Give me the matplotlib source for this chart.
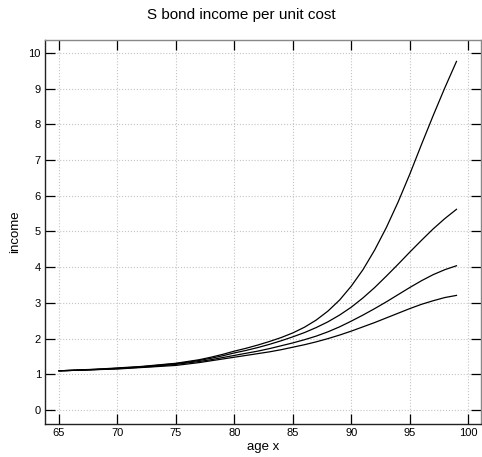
import numpy as np
import matplotlib
matplotlib.use("Agg")
import matplotlib.pyplot as plt

plt.rcParams['font.family'] = ['Liberation Sans', 'DejaVu Sans']

# ages 65..99
age = list(range(65, 100))

# four income curves
income_a = [1.10, 1.11, 1.13, 1.14, 1.16, 1.18, 1.20, 1.22, 1.25, 1.28,
            1.31, 1.36, 1.41, 1.48, 1.56, 1.65, 1.73, 1.82, 1.92, 2.03,
            2.16, 2.32, 2.52, 2.77, 3.08, 3.47, 3.93, 4.48, 5.11, 5.82,
            6.60, 7.43, 8.24, 9.02, 9.76]
income_b = [1.10, 1.11, 1.12, 1.14, 1.15, 1.17, 1.19, 1.21, 1.24, 1.27,
            1.30, 1.34, 1.39, 1.45, 1.52, 1.60, 1.67, 1.75, 1.84, 1.94,
            2.05, 2.17, 2.31, 2.47, 2.66, 2.88, 3.14, 3.43, 3.75, 4.08,
            4.42, 4.75, 5.07, 5.36, 5.62]
income_c = [1.10, 1.11, 1.12, 1.13, 1.15, 1.16, 1.18, 1.20, 1.22, 1.25,
            1.28, 1.32, 1.36, 1.41, 1.47, 1.53, 1.59, 1.65, 1.72, 1.80,
            1.88, 1.97, 2.07, 2.19, 2.33, 2.49, 2.66, 2.84, 3.03, 3.23,
            3.43, 3.62, 3.79, 3.93, 4.04]
income_d = [1.10, 1.11, 1.12, 1.13, 1.14, 1.15, 1.17, 1.19, 1.21, 1.23,
            1.25, 1.29, 1.33, 1.38, 1.43, 1.48, 1.53, 1.58, 1.63, 1.69,
            1.76, 1.83, 1.91, 2.00, 2.10, 2.21, 2.33, 2.45, 2.58, 2.71,
            2.84, 2.96, 3.06, 3.15, 3.21]

xticks = [65, 70, 75, 80, 85, 90, 95, 100]
yticks = list(range(0, 11))

fig = plt.figure(figsize=(4.82, 4.57), dpi=100)
ax = fig.add_axes([0.0934, 0.0722, 0.9046, 0.8403])

for series in (income_a, income_b, income_c, income_d):
    ax.plot(age, series, color="black", lw=0.9)

ax.set_xlim(63.8, 101.1)
ax.set_ylim(-0.39, 10.36)
ax.set_xticks(xticks)
ax.set_yticks(yticks)
ax.grid(True, ls=":", color="#c4c4c4", lw=0.8)
ax.tick_params(direction="in", length=7, width=0.9, top=True, right=True,
               labelsize=8, pad=3, color="black")

for side in ("left", "bottom"):
    ax.spines[side].set_color("#222222")
    ax.spines[side].set_linewidth(1.0)
for side in ("top", "right"):
    ax.spines[side].set_color("#888888")
    ax.spines[side].set_linewidth(1.0)

ax.set_xlabel("age x", fontsize=9.5, labelpad=2)
ax.set_ylabel("income", fontsize=9.5, labelpad=5)
fig.suptitle("S bond income per unit cost", fontsize=11, y=0.982)

fig.savefig("out.png", dpi=100)
